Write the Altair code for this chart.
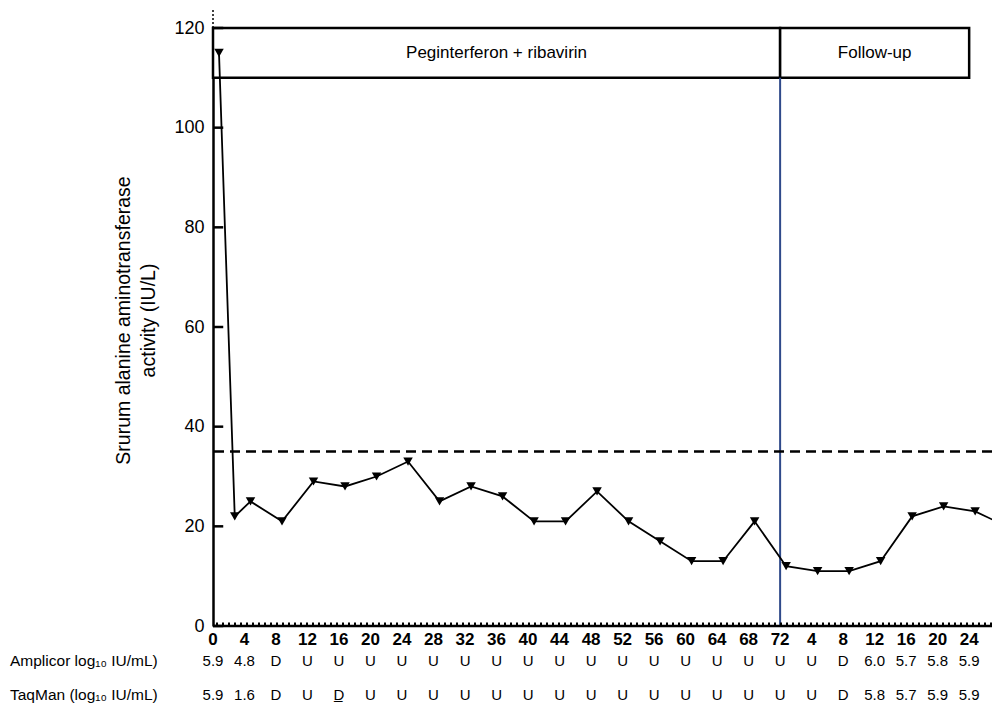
import altair as alt
import pandas as pd

# ALT measurements (weeks from start of therapy; follow-up weeks continue after 72)
weeks = [0, 2, 4, 8, 12, 16, 20, 24, 28, 32, 36, 40, 44, 48, 52, 56, 60, 64, 68, 72,
         76, 80, 84, 88, 92, 96, 100]
alt_values = [115, 22, 25, 21, 29, 28, 30, 33, 25, 28, 26, 21, 21, 27, 21, 17, 13, 13, 21, 12,
              11, 11, 13, 22, 24, 23, 20]

# column labels under the axis
label_pos = [0, 4, 8, 12, 16, 20, 24, 28, 32, 36, 40, 44, 48, 52, 56, 60, 64, 68, 72,
             76, 80, 84, 88, 92, 96]
label_text = ["0", "4", "8", "12", "16", "20", "24", "28", "32", "36", "40", "44", "48",
              "52", "56", "60", "64", "68", "72", "4", "8", "12", "16", "20", "24"]
amplicor = ["5.9", "4.8", "D"] + ["U"] * 17 + ["D", "6.0", "5.7", "5.8", "5.9"]
taqman = ["5.9", "1.6", "D", "U", "D\u0332"] + ["U"] * 15 + ["D", "5.8", "5.7", "5.9", "5.9"]

row_names = ["Amplicor log\u2081\u2080 IU/mL)", "TaqMan (log\u2081\u2080 IU/mL)"]

phase_names = ["Peginterferon + ribavirin", "Follow-up"]
phase_start = [0, 72]
phase_end = [72, 96]

y_ticks = [0, 20, 40, 60, 80, 100, 120]
uln = 35
FONT = "Liberation Sans"

line_df = pd.DataFrame({"week": weeks, "alt": alt_values})
lab_df = pd.DataFrame({"pos": label_pos, "label": label_text, "amp": amplicor, "taq": taqman})
phase_df = pd.DataFrame({"phase": phase_names, "start": phase_start, "end": phase_end})
phase_df["mid"] = (phase_df["start"] + phase_df["end"]) / 2
phase_df["lo"] = 110
phase_df["hi"] = 120
phase_df["ty"] = 115
one_df = pd.DataFrame({"k": [0]})
rows_df = pd.DataFrame({"name": row_names})
tick_df = pd.DataFrame({"v": y_ticks})
tick_df["v0"] = tick_df["v"] - 0.25
tick_df["v1"] = tick_df["v"] + 0.25
tick_df["x0"] = 0.0
tick_df["x1"] = 1.3

xs = alt.Scale(domain=[0, 98.9], nice=False, zero=False)
ys = alt.Scale(domain=[0, 120], nice=False, zero=False)
ytitle = ["Srurum alanine aminotransferase", "activity (IU/L)"]
yaxis = alt.Axis(values=y_ticks, title=ytitle, tickSize=0, labelPadding=9,
                 labelFontSize=18, labelFont=FONT, labelColor="black",
                 domainColor="black", domainWidth=2.5, grid=False,
                 titleFont=FONT, titleFontSize=19.5, titleFontWeight="normal",
                 titleColor="black", titleAngle=270, titleX=-80, titleY=292,
                 titleBaseline="bottom", titleAlign="center", titleLineHeight=25)


def Y(field):
    return alt.Y(field, type="quantitative", scale=ys, axis=yaxis, title=ytitle)


def X(field):
    return alt.X(field, type="quantitative", scale=xs, axis=None)


box = alt.Chart(phase_df).mark_rect(fill="white", stroke="black", strokeWidth=2.5).encode(
    x=X("start"), x2=alt.X2("end"), y=Y("lo"), y2=alt.Y2("hi"))
box_text = alt.Chart(phase_df).mark_text(font=FONT, fontSize=17, color="black").encode(
    x=X("mid"), y=Y("ty"), text="phase")

blue = alt.Chart(phase_df.iloc[[1]]).mark_rule(color="#2f4a8a", strokeWidth=2).encode(
    x=X("start"), y=alt.datum(0), y2=alt.datum(110))

dash = alt.Chart(one_df).mark_rule(color="black", strokeWidth=2.5, strokeDash=[10, 6]).encode(
    y=alt.datum(uln))

inticks = alt.Chart(tick_df).mark_rect(color="black", opacity=1).encode(
    x=X("x0"), x2=alt.X2("x1"), y=Y("v0"), y2=alt.Y2("v1"))

topdot = alt.Chart(one_df).mark_rule(color="black", strokeWidth=1.5,
                                     strokeDash=[2, 2]).encode(
    x=alt.value(0), y=alt.datum(120), y2=alt.datum(124))

baseline = alt.Chart(one_df).mark_rule(color="black", strokeWidth=2.5).encode(
    y=alt.datum(0))
minor = alt.Chart(one_df).mark_rule(color="black", strokeWidth=3, strokeDash=[2, 4],
                                    yOffset=-2).encode(y=alt.datum(0))

line = alt.Chart(line_df).mark_line(color="black", strokeWidth=1.8, xOffset=6, clip=True).encode(
    x=X("week"), y=Y("alt"))
pts = alt.Chart(line_df).mark_point(shape="triangle-down", filled=True, color="black",
                                    size=90, opacity=1, xOffset=6, clip=True).encode(
    x=X("week"), y=Y("alt"))

xlabels = alt.Chart(lab_df).mark_text(font=FONT, fontSize=17, fontWeight="bold",
                                      color="black", baseline="middle").encode(
    x=X("pos"), y=alt.value(612), text="label")
amp_t = alt.Chart(lab_df).mark_text(font=FONT, fontSize=15, color="black",
                                    baseline="middle").encode(
    x=X("pos"), y=alt.value(633), text="amp")
taq_t = alt.Chart(lab_df).mark_text(font=FONT, fontSize=15, color="black",
                                    baseline="middle").encode(
    x=X("pos"), y=alt.value(667), text="taq")
name1 = alt.Chart(rows_df.iloc[[0]]).mark_text(font=FONT, fontSize=15.5, color="black",
                                               align="left", baseline="middle").encode(
    x=alt.value(-203), y=alt.value(633), text="name")
name2 = alt.Chart(rows_df.iloc[[1]]).mark_text(font=FONT, fontSize=15.5, color="black",
                                               align="left", baseline="middle").encode(
    x=alt.value(-203), y=alt.value(667), text="name")

chart = alt.layer(box, box_text, blue, dash, inticks, topdot, baseline, minor, line, pts,
                  xlabels, amp_t, taq_t, name1, name2).properties(
    width=779, height=598,
    background="white",
    autosize=alt.AutoSizeParams(type="none"),
    padding={"left": 205, "top": 20, "right": 0, "bottom": 82},
).configure_view(stroke=None)

chart.save("out.html", embed_options={"renderer": "svg", "actions": False})
